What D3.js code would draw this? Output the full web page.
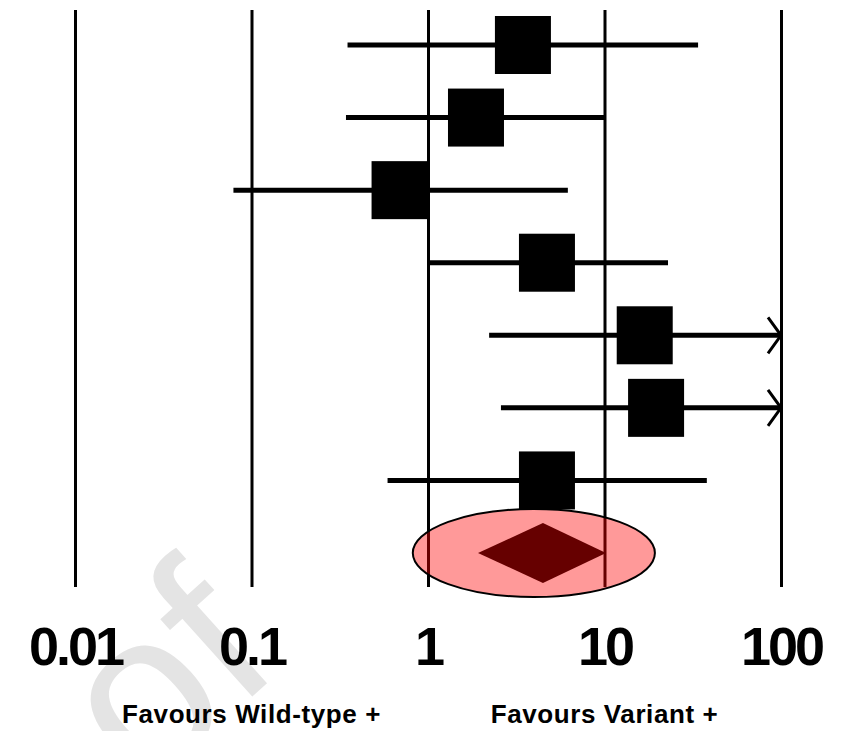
<!DOCTYPE html>
<html>
<head>
<meta charset="utf-8">
<script src="https://cdn.jsdelivr.net/npm/d3@7"></script>
<style>
body { margin: 0; background: #fff; }
</style>
</head>
<body>
<div id="chart"></div>
<script>
// values (odds ratio, 95% CI)
var studies = [1, 2, 3, 4, 5, 6, 7];
var orValues = [3.45, 1.87, 0.69, 4.72, 16.9, 19.6, 4.72];
var ciLower = [0.35, 0.343, 0.079, 1.0, 2.22, 2.59, 0.59];
var ciUpper = [33.9, 10.1, 6.2, 22.9, 150, 150, 38];
var pooledOr = 4.48;
var pooledCi = [1.92, 10.2];
var highlightRange = [0.82, 19.3];

var tickValues = [0.01, 0.1, 1, 10, 100];
var tickLabels = ["0.01", "0.1", "1", "10", "100"];
var sideLabels = ["Favours Wild-type +", "Favours Variant +"];
var sideLabelAt = [0.1, 10];

var svgWidth = 850;
var svgHeight = 731;

var svg = d3.select("#chart").append("svg")
    .attr("width", svgWidth)
    .attr("height", svgHeight);

var x = d3.scaleLog()
    .domain([0.01, 100])
    .range([75, 781]);

// rows 1..7 are studies, row 8 is the pooled estimate
var y = d3.scaleLinear()
    .domain([1, 8])
    .range([45, 553]);

var axisY = 587;
var maxX = x.domain()[1];

// faint watermark (tail of a diagonal stamp, cut by the page edge)
svg.append("text")
    .attr("transform", "translate(284,668) rotate(-42)")
    .attr("text-anchor", "end")
    .style("font-family", "Liberation Sans, Arial, sans-serif")
    .style("font-size", "225px")
    .style("fill", "#e4e4e4")
    .text("of");

// axis: vertical reference lines + labels
var bottomAxis = d3.axisBottom(x)
    .tickValues(tickValues)
    .tickFormat(function(d, i) { return tickLabels[i]; })
    .tickSizeInner(-(axisY - 10))
    .tickSizeOuter(0);

var xAxis = svg.append("g")
    .attr("transform", `translate(0, ${axisY})`)
    .call(bottomAxis);

xAxis.select(".domain").remove();
xAxis.selectAll(".tick line")
    .attr("stroke", "#000")
    .attr("stroke-width", 3);
xAxis.selectAll(".tick text")
    .attr("y", 78)
    .attr("dy", null)
    .attr("fill", "#000")
    .style("font-family", "Liberation Sans, Arial, sans-serif")
    .style("font-weight", "bold")
    .style("font-size", "54px")
    .style("letter-spacing", "-3px");

// confidence interval lines
var rows = studies.map(function(s, i) {
    return {row: s, or: orValues[i], lo: ciLower[i], hi: ciUpper[i]};
});

svg.selectAll(".ci")
    .data(rows)
    .enter()
    .append("line")
    .attr("class", "ci")
    .attr("x1", d => x(d.lo))
    .attr("x2", d => x(Math.min(d.hi, maxX)))
    .attr("y1", d => y(d.row))
    .attr("y2", d => y(d.row))
    .attr("stroke", "#000")
    .attr("stroke-width", 5);

// arrows where the interval runs off the scale
svg.selectAll(".arrow")
    .data(rows.filter(d => d.hi > maxX))
    .enter()
    .append("polyline")
    .attr("class", "arrow")
    .attr("points", function(d) {
        var ax = x(maxX), ay = y(d.row);
        return [[ax - 13, ay - 18], [ax, ay], [ax - 13, ay + 18]].join(" ");
    })
    .attr("fill", "none")
    .attr("stroke", "#000")
    .attr("stroke-width", 3);

// study squares
var boxW = 56, boxH = 58;
svg.selectAll(".box")
    .data(rows)
    .enter()
    .append("rect")
    .attr("class", "box")
    .attr("x", d => x(d.or) - boxW / 2)
    .attr("y", d => y(d.row) - boxH / 2)
    .attr("width", boxW)
    .attr("height", boxH)
    .attr("fill", "#000");

// pooled diamond
var py = y(8);
svg.append("polygon")
    .attr("points", [
        [x(pooledCi[0]), py],
        [x(pooledOr), py - 30],
        [x(pooledCi[1]), py],
        [x(pooledOr), py + 30]
    ].join(" "))
    .attr("fill", "#000");

// highlight ellipse over the pooled result
var ex0 = x(highlightRange[0]), ex1 = x(highlightRange[1]);
svg.append("ellipse")
    .attr("cx", (ex0 + ex1) / 2)
    .attr("cy", py)
    .attr("rx", (ex1 - ex0) / 2)
    .attr("ry", 44)
    .attr("fill", "#ff0000")
    .attr("fill-opacity", 0.4)
    .attr("stroke", "#000")
    .attr("stroke-width", 2);

// side labels
svg.selectAll(".side")
    .data(sideLabels)
    .enter()
    .append("text")
    .attr("class", "side")
    .attr("x", (d, i) => x(sideLabelAt[i]))
    .attr("y", 723)
    .attr("text-anchor", "middle")
    .style("font-family", "Liberation Sans, Arial, sans-serif")
    .style("font-weight", "bold")
    .style("font-size", "26px")
    .style("letter-spacing", "0.6px")
    .text(d => d);
</script>
</body>
</html>
